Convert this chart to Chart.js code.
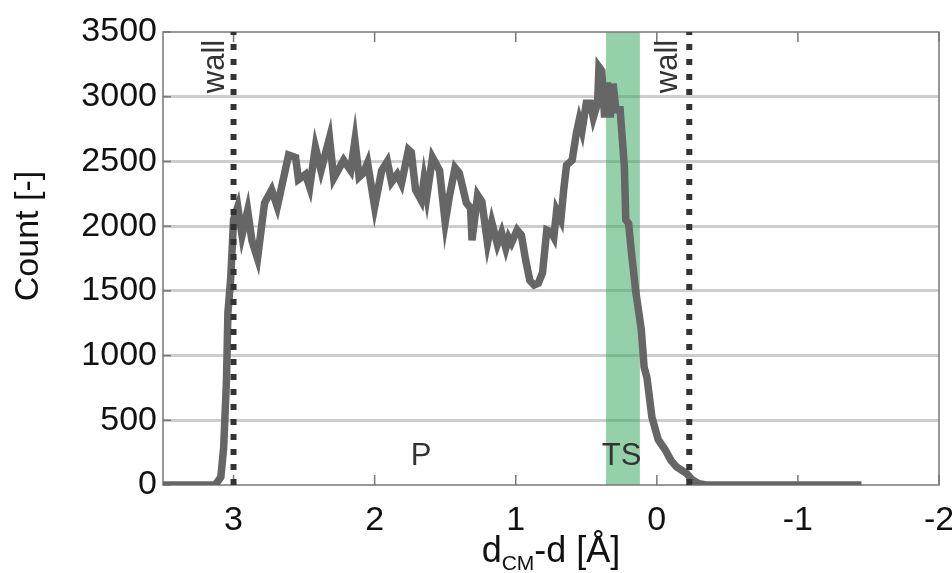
<!DOCTYPE html>
<html>
<head>
<meta charset="utf-8">
<script src="https://cdn.jsdelivr.net/npm/chart.js@4.4.1/dist/chart.umd.min.js"></script>
<style>
  body { margin: 0; background: #fff; }
  #wrap { width: 952px; height: 573px; }
</style>
</head>
<body>
<div id="wrap"><canvas id="histChart" width="952" height="573"></canvas></div>
<script>
// Count histogram along d_CM - d, with walls and the TS region

// x positions (Å), read left to right on the reversed axis
const xValues = [
  3.50, 3.13, 3.09, 3.07, 3.05, 3.04, 3.02, 3.00, 2.97, 2.94,
  2.90, 2.87, 2.83, 2.78, 2.73, 2.69, 2.61, 2.56, 2.54, 2.49,
  2.46, 2.42, 2.38, 2.32, 2.29, 2.22, 2.17, 2.14, 2.11, 2.08,
  2.05, 2.00, 1.95, 1.91, 1.88, 1.84, 1.81, 1.76, 1.74, 1.71,
  1.67, 1.65, 1.63, 1.59, 1.54, 1.50, 1.47, 1.43, 1.40, 1.35,
  1.32, 1.31, 1.27, 1.24, 1.20, 1.17, 1.13, 1.10, 1.07, 1.05,
  1.03, 0.99, 0.96, 0.93, 0.90, 0.87, 0.84, 0.81, 0.78, 0.75,
  0.73, 0.71, 0.68, 0.66, 0.64, 0.60, 0.57, 0.55, 0.53, 0.50,
  0.47, 0.45, 0.42, 0.41, 0.39, 0.37, 0.35, 0.33, 0.31, 0.29,
  0.26, 0.23, 0.22, 0.20, 0.18, 0.15, 0.11, 0.09, 0.07, 0.035,
  -0.01, -0.06, -0.10, -0.14, -0.21, -0.25, -0.30, -0.35, -1.45
];
const counts = [
  0, 0, 60, 290, 810, 1330, 1600, 2050, 2150, 1930,
  2120, 1890, 1750, 2180, 2280, 2150, 2550, 2530, 2360, 2400,
  2300, 2610, 2430, 2680, 2370, 2510, 2430, 2660, 2380, 2410,
  2490, 2150, 2430, 2500, 2340, 2400, 2330, 2590, 2570, 2280,
  2200, 2360, 2230, 2530, 2430, 2030, 2230, 2450, 2410, 2180,
  2140, 1890, 2240, 2190, 1870, 2030, 1860, 1950, 1830, 1910,
  1870, 1970, 1930, 1740, 1580, 1545, 1560, 1640, 1970, 1955,
  1915, 2120, 2050, 2280, 2470, 2510, 2720, 2820, 2740, 2950,
  2950, 2840, 2950, 3230, 3200, 2840, 3110, 2840, 3100, 2900,
  2900, 2460, 2050, 2020, 1800, 1500, 1200, 910, 830, 525,
  350, 270, 190, 140, 90, 40, 10, 0, 0
];

const xTicks = [3, 2, 1, 0, -1, -2];
const yTicks = [0, 500, 1000, 1500, 2000, 2500, 3000, 3500];
const wallX = [3.0, -0.23];
const tsBand = [0.12, 0.36];
const regionLabels = [
  { text: "P", x: 1.67, y: 250 },
  { text: "TS", x: 0.25, y: 250 }
];
const wallLabelX = [3.067, -0.14];

const FONT = "'Liberation Sans', Arial, sans-serif";

function seg(ctx, x1, y1, x2, y2) {
  ctx.beginPath();
  ctx.moveTo(x1, y1);
  ctx.lineTo(x2, y2);
  ctx.stroke();
}

const decor = {
  id: "decor",
  beforeDatasetsDraw(chart) {
    const { ctx, chartArea: a, scales: { x, y } } = chart;
    ctx.save();
    // TS band
    const b1 = x.getPixelForValue(tsBand[0]);
    const b2 = x.getPixelForValue(tsBand[1]);
    ctx.fillStyle = "rgba(60,170,100,0.55)";
    ctx.fillRect(Math.min(b1, b2), a.top, Math.abs(b2 - b1), a.bottom - a.top);
    // box and inner ticks
    ctx.strokeStyle = "#777";
    ctx.lineWidth = 1.5;
    ctx.strokeRect(a.left, a.top, a.right - a.left, a.bottom - a.top);
    xTicks.forEach(v => {
      const px = x.getPixelForValue(v);
      seg(ctx, px, a.bottom, px, a.bottom - 10);
      seg(ctx, px, a.top, px, a.top + 10);
    });
    yTicks.forEach(v => {
      const py = y.getPixelForValue(v);
      seg(ctx, a.left, py, a.left + 8, py);
    });
    ctx.restore();
  },
  afterDatasetsDraw(chart) {
    const { ctx, scales: { x, y } } = chart;
    ctx.save();
    ctx.fillStyle = "#333";
    ctx.font = "31px " + FONT;
    ctx.textAlign = "center";
    ctx.textBaseline = "alphabetic";
    regionLabels.forEach(l => {
      ctx.fillText(l.text, x.getPixelForValue(l.x), y.getPixelForValue(l.y) + 12);
    });
    // rotated wall labels
    wallLabelX.forEach(v => {
      ctx.save();
      ctx.translate(x.getPixelForValue(v), y.getPixelForValue(3440));
      ctx.rotate(-Math.PI / 2);
      ctx.textAlign = "right";
      ctx.fillText("wall", 0, 0);
      ctx.restore();
    });
    ctx.restore();
  },
  afterDraw(chart) {
    const { ctx, chartArea: a } = chart;
    ctx.save();
    ctx.fillStyle = "#111";
    // y title
    ctx.save();
    ctx.translate(29, 236);
    ctx.rotate(-Math.PI / 2);
    ctx.font = "34px " + FONT;
    ctx.textAlign = "center";
    ctx.textBaseline = "middle";
    ctx.fillText("Count [-]", 0, 0);
    ctx.restore();
    // x title with subscript
    const big = "36px " + FONT, small = "21px " + FONT;
    ctx.font = big;
    const w1 = ctx.measureText("d").width;
    const w3 = ctx.measureText("-d [Å]").width;
    ctx.font = small;
    const w2 = ctx.measureText("CM").width;
    let cx = (a.left + a.right) / 2 - (w1 + w2 + w3) / 2;
    const base = 562;
    ctx.textAlign = "left";
    ctx.textBaseline = "alphabetic";
    ctx.font = big;
    ctx.fillText("d", cx, base);
    cx += w1;
    ctx.font = small;
    ctx.fillText("CM", cx, base + 8);
    cx += w2;
    ctx.font = big;
    ctx.fillText("-d [Å]", cx, base);
    ctx.restore();
  }
};

const lineData = xValues.map((v, i) => ({ x: v, y: counts[i] }));
const wallSets = wallX.map(v => ({
  data: [{ x: v, y: 0 }, { x: v, y: 3500 }],
  borderColor: "#333",
  borderWidth: 6,
  borderDash: [6, 9],
  pointRadius: 0,
  order: 1
}));

new Chart(document.getElementById("histChart"), {
  type: "line",
  data: {
    datasets: [
      {
        data: lineData,
        borderColor: "#666",
        borderWidth: 7.5,
        pointRadius: 0,
        tension: 0,
        order: 2
      },
      ...wallSets
    ]
  },
  options: {
    responsive: false,
    animation: false,
    layout: { padding: { top: 32, right: 13, left: 0, bottom: 0 } },
    plugins: { legend: { display: false }, tooltip: { enabled: false } },
    scales: {
      x: {
        type: "linear",
        reverse: true,
        min: -2,
        max: 3.5,
        grid: { display: false },
        border: { display: false },
        ticks: {
          stepSize: 1,
          includeBounds: false,
          color: "#111",
          padding: 7,
          maxRotation: 0,
          font: { family: FONT, size: 34 },
          callback: v => String(v)
        },
        afterFit(s) { s.height = 88; s.paddingLeft = 0; s.paddingRight = 0; }
      },
      y: {
        min: 0,
        max: 3500,
        border: { display: false },
        grid: {
          drawTicks: false,
          lineWidth: 3,
          color: c => (c.tick && (c.tick.value === 0 || c.tick.value === 3500)) ? "rgba(0,0,0,0)" : "#cdcdcd"
        },
        ticks: {
          stepSize: 500,
          color: "#111",
          padding: 6,
          font: { family: FONT, size: 34 },
          callback: v => String(v)
        },
        afterFit(s) { s.width = 163; s.paddingTop = 0; s.paddingBottom = 0; }
      }
    }
  },
  plugins: [decor]
});
</script>
</body>
</html>
